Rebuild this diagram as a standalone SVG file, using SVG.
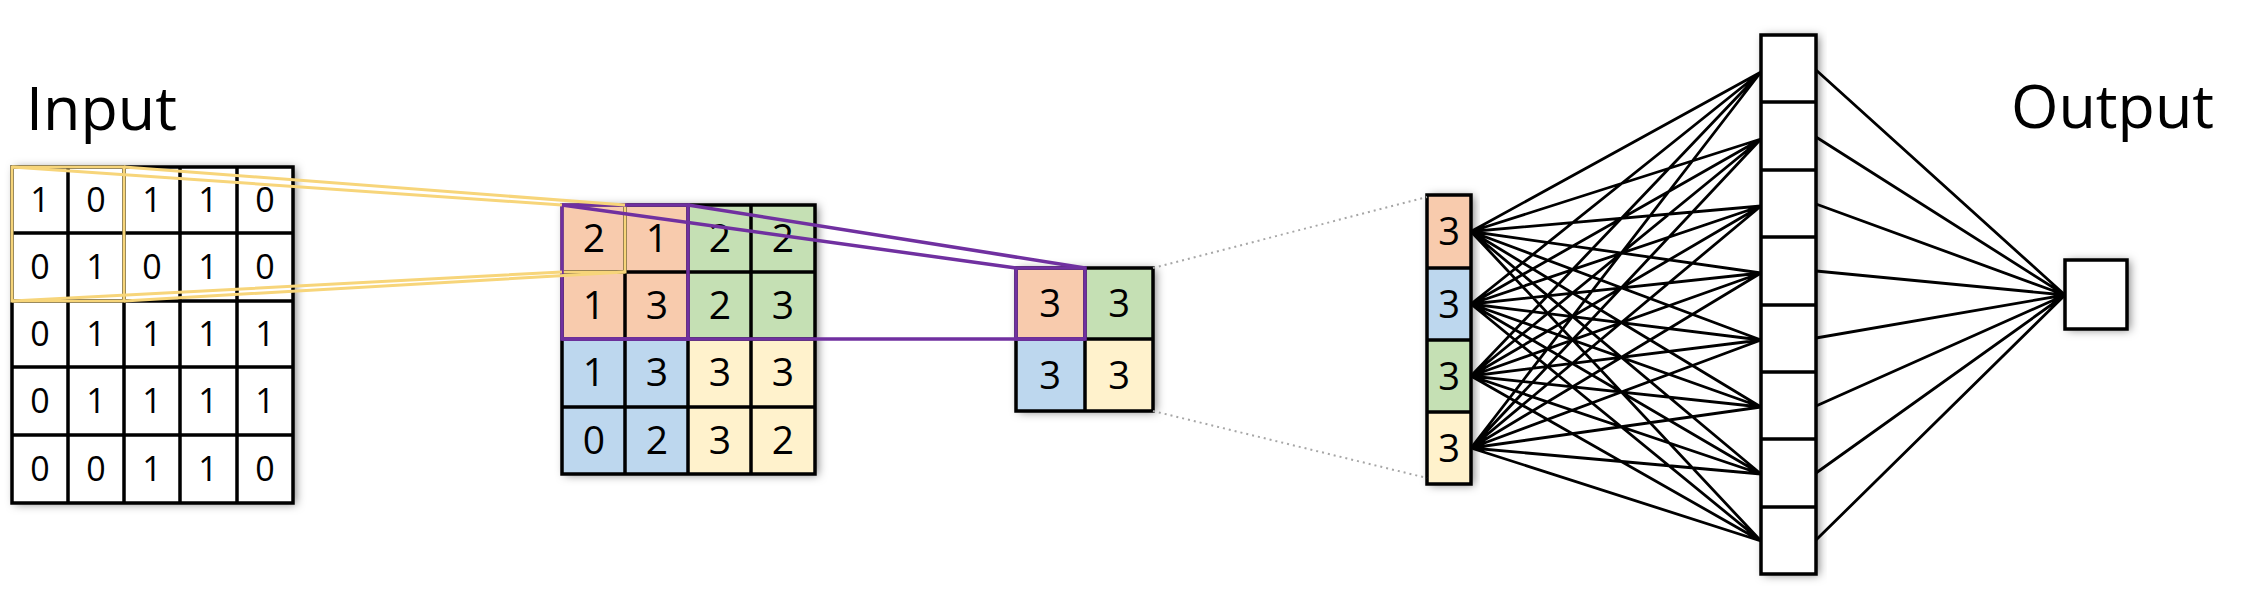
<svg xmlns="http://www.w3.org/2000/svg" width="2262" height="612" viewBox="0 0 2262 612">
<defs>
<filter id="sh" x="-20%" y="-20%" width="140%" height="140%">
<feDropShadow dx="3" dy="1" stdDeviation="5" flood-color="#000" flood-opacity="0.5"/>
</filter>
</defs>
<style>
text{font-family:"Open Sans","Noto Sans",sans-serif;fill:#000;text-anchor:middle}
.title{font-size:61px;text-anchor:start}
.d1{font-size:34px}
.d2{font-size:39px}
.d3{font-size:38px}
.grid{fill:none;stroke:#000;stroke-width:3.5}
.o{fill:#F8CBAD}.g{fill:#C5E0B4}.b{fill:#BDD7EE}.y{fill:#FFF2CC}.w{fill:#fff}
.yl{fill:none;stroke:#F7D57A;stroke-width:3}
.pl{fill:none;stroke:#7030A0;stroke-width:3.5}
.dot{fill:none;stroke:#A6A6A6;stroke-width:2;stroke-dasharray:2 4}
.fc{stroke:#000;stroke-width:2.8;fill:none}
</style>

<text class="title" x="26" y="130">Input</text>
<text class="title" x="2011" y="128">Output</text>

<g id="input">
<rect x="12" y="167" width="281" height="336" class="w" filter="url(#sh)"/>
<path class="grid" d="M12 167H293V503H12Z M68 167V503 M124 167V503 M180 167V503 M237 167V503 M12 233H293 M12 301H293 M12 367H293 M12 435H293"/>
<g class="d1">
<text x="40" y="212">1</text><text x="96" y="212">0</text><text x="152" y="212">1</text><text x="208" y="212">1</text><text x="265" y="212">0</text>
<text x="40" y="279">0</text><text x="96" y="279">1</text><text x="152" y="279">0</text><text x="208" y="279">1</text><text x="265" y="279">0</text>
<text x="40" y="346">0</text><text x="96" y="346">1</text><text x="152" y="346">1</text><text x="208" y="346">1</text><text x="265" y="346">1</text>
<text x="40" y="413">0</text><text x="96" y="413">1</text><text x="152" y="413">1</text><text x="208" y="413">1</text><text x="265" y="413">1</text>
<text x="40" y="481">0</text><text x="96" y="481">0</text><text x="152" y="481">1</text><text x="208" y="481">1</text><text x="265" y="481">0</text>
</g>
<rect class="yl" x="12" y="167" width="112" height="134"/>
</g>

<g id="conv">
<rect x="562" y="205" width="253" height="269" class="w" filter="url(#sh)"/>
<rect class="o" x="562" y="205" width="126" height="134"/>
<rect class="g" x="688" y="205" width="127" height="134"/>
<rect class="b" x="562" y="339" width="126" height="135"/>
<rect class="y" x="688" y="339" width="127" height="135"/>
<path class="grid" d="M562 205H815V474H562Z M625 205V474 M688 205V474 M751 205V474 M562 272H815 M562 339H815 M562 407H815"/>
<g class="d2">
<text x="594" y="252">2</text><text x="657" y="252">1</text><text x="720" y="252">2</text><text x="783" y="252">2</text>
<text x="594" y="319">1</text><text x="657" y="319">3</text><text x="720" y="319">2</text><text x="783" y="319">3</text>
<text x="594" y="386">1</text><text x="657" y="386">3</text><text x="720" y="386">3</text><text x="783" y="386">3</text>
<text x="594" y="454">0</text><text x="657" y="454">2</text><text x="720" y="454">3</text><text x="783" y="454">2</text>
</g>
<rect class="yl" x="562" y="205" width="63" height="67"/>
<rect class="pl" x="562" y="205" width="126" height="134"/>
</g>

<g id="pool">
<rect x="1016" y="268" width="137" height="143" class="w" filter="url(#sh)"/>
<rect class="o" x="1016" y="268" width="69" height="71"/>
<rect class="g" x="1085" y="268" width="68" height="71"/>
<rect class="b" x="1016" y="339" width="69" height="72"/>
<rect class="y" x="1085" y="339" width="68" height="72"/>
<path class="grid" d="M1016 268H1153V411H1016Z M1085 268V411 M1016 339H1153"/>
<g class="d3">
<text x="1050" y="317">3</text><text x="1119" y="317">3</text>
<text x="1050" y="389">3</text><text x="1119" y="389">3</text>
</g>
<rect class="pl" x="1016" y="268" width="69" height="71"/>
</g>

<g id="flat">
<rect x="1427" y="195" width="44" height="289" class="w" filter="url(#sh)"/>
<rect class="o" x="1427" y="195" width="44" height="73"/>
<rect class="b" x="1427" y="268" width="44" height="72"/>
<rect class="g" x="1427" y="340" width="44" height="72"/>
<rect class="y" x="1427" y="412" width="44" height="72"/>
<path class="grid" d="M1427 195H1471V484H1427Z M1427 268H1471 M1427 340H1471 M1427 412H1471"/>
<g class="d3">
<text x="1449" y="245">3</text><text x="1449" y="318">3</text><text x="1449" y="390">3</text><text x="1449" y="462">3</text>
</g>
</g>

<g id="hidden">
<rect x="1761" y="35" width="55" height="539" class="w" filter="url(#sh)"/>
<path class="grid" d="M1761 35H1816V574H1761Z M1761 102H1816 M1761 170H1816 M1761 237H1816 M1761 305H1816 M1761 372H1816 M1761 439H1816 M1761 507H1816"/>
</g>

<g id="output">
<rect x="2065" y="260" width="62" height="69" class="w" filter="url(#sh)"/>
<rect class="grid" x="2065" y="260" width="62" height="69"/>
</g>

<g id="connectors">
<path class="yl" d="M12 167L562 205 M124 167L625 205 M12 301L562 272 M124 301L625 272"/>
<path class="pl" d="M562 205L1016 268 M688 205L1085 268 M562 339L1016 339 M688 339L1085 339"/>
<path class="dot" d="M1153 268L1427 197 M1153 411L1427 478"/>
<path class="fc" d="M1471 231.5L1761 72 M1471 231.5L1761 139 M1471 231.5L1761 206 M1471 231.5L1761 273 M1471 231.5L1761 340 M1471 231.5L1761 407 M1471 231.5L1761 474 M1471 231.5L1761 541
M1471 304L1761 72 M1471 304L1761 139 M1471 304L1761 206 M1471 304L1761 273 M1471 304L1761 340 M1471 304L1761 407 M1471 304L1761 474 M1471 304L1761 541
M1471 376L1761 72 M1471 376L1761 139 M1471 376L1761 206 M1471 376L1761 273 M1471 376L1761 340 M1471 376L1761 407 M1471 376L1761 474 M1471 376L1761 541
M1471 448L1761 72 M1471 448L1761 139 M1471 448L1761 206 M1471 448L1761 273 M1471 448L1761 340 M1471 448L1761 407 M1471 448L1761 474 M1471 448L1761 541
M1816 70L2065 295 M1816 137L2065 295 M1816 204L2065 295 M1816 271L2065 295 M1816 338L2065 295 M1816 406L2065 295 M1816 473L2065 295 M1816 540L2065 295"/>
</g>
</svg>
